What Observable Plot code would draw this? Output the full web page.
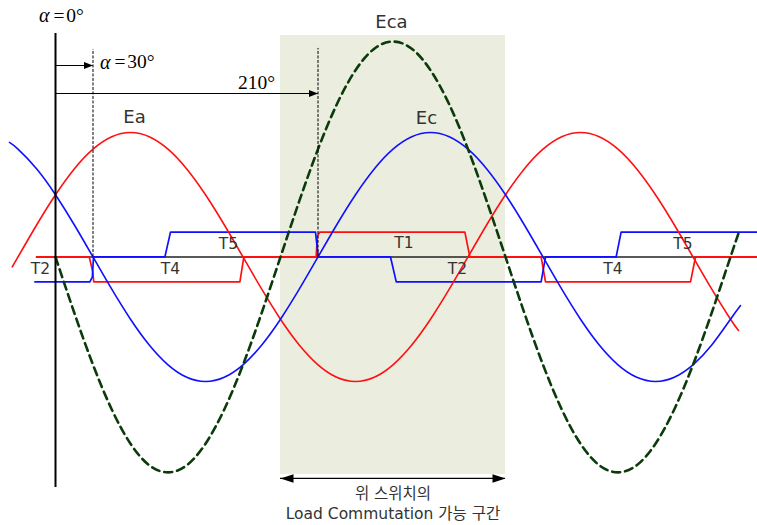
<!DOCTYPE html>
<html><head><meta charset="utf-8">
<script src="https://cdn.jsdelivr.net/npm/d3@7"></script>
<script src="https://cdn.jsdelivr.net/npm/@observablehq/plot@0.6"></script>
<style>html,body{margin:0;padding:0;background:#fff;overflow:hidden}</style>
</head><body><div id="chart"></div>
<script>
// Angles (degrees) of the sampling grid
const gridDeg = [-30,-15,0,15,30,45,60,75,90,105,120,135,150,165,180,195,210,225,240,255,270,285,300,315,330,345,360,375,390,405,420,435,450,465,480,495,510,525,540];
// Phase voltages (per-unit) read at each grid angle
const eaGrid = [0,.259,.5,.707,.866,.966,1,.966,.866,.707,.5,.259,0,-.259,-.5,-.707,-.866,-.966,-1,-.966,-.866,-.707,-.5,-.259,0,.259,.5,.707,.866,.966,1,.966,.866,.707,.5,.259,0,-.259,-.5];
const ecGrid = [.866,.707,.5,.259,0,-.259,-.5,-.707,-.866,-.966,-1,-.966,-.866,-.707,-.5,-.259,0,.259,.5,.707,.866,.966,1,.966,.866,.707,.5,.259,0,-.259,-.5,-.707,-.866,-.966,-1,-.966,-.866,-.707,-.5];
const ecaGrid = [null,null,0,-.448,-.866,-1.225,-1.5,-1.673,-1.73,-1.673,-1.5,-1.225,-.866,-.448,0,.448,.866,1.225,1.5,1.673,1.73,1.673,1.5,1.225,.866,.448,0,-.448,-.866,-1.225,-1.5,-1.673,-1.73,-1.673,-1.5,-1.225,-.866,-.448,0];
// Curve end points [deg, value]
const eaEnds = [[-34.6, -0.08], [546.4, -0.59]];
const ecEnds = [[-36.8, 0.92], [548, -0.39]];
const ecaEnds = [null, [546.4, 0.19]];
// Gate pulse traces [deg, level]
const redPulse = [[-15.2,0],[27,0],[29.8,-0.12],[30.6,-0.2],[147.5,-0.2],[150.7,0],[208.5,0],[209.6,0.17],[211.5,0.2],[327.5,0.2],[331.5,0],[388.5,0],[392,-0.2],[508,-0.2],[512,0],[561.6,0]];
const bluePulse = [[-16.5,-0.2],[27.5,-0.2],[29.5,-0.16],[30.4,0],[87.5,0],[92,0.2],[208,0.2],[210.2,0],[268,0],[272.6,-0.2],[388.5,-0.2],[392,0],[448.5,0],[452.5,0.2],[561.6,0.2]];
// Thyristor labels
const pulseLabels = ["T2","T4","T5","T1","T2","T4","T5"];
const pulseLabelDeg = [-12, 92, 138.4, 278.8, 321.6, 446, 502];
const pulseLabelVal = [-0.096, -0.096, 0.106, 0.108, -0.096, -0.096, 0.106];
// Curve names
const curveNames = ["Ea","Ec","Eca"];
const curveNameDeg = [63.2, 296.8, 268.8];
const curveNameVal = [1.12, 1.116, 1.884];
// Angle annotations
const alphaText = ["=\u200a0°", "=\u200a30°"];
const alphaDeg = [-1.6, 47.2];
const alphaVal = [1.94, 1.565];
const firingText = ["210°"];
const firingDeg = [160.8];
const firingVal = [1.40];
// Arrows (from 0° to firing angle)
const arrowTo = [30, 210];
const arrowVal = [1.538, 1.313];
const dashTop = [1.667, 1.675];
// Load commutation region
const regionDeg = [180, 360];
const regionVal = [-1.747, 1.779];
const regionArrowVal = -1.779;
const regionText = ["위 스위치의", "Load Commutation 가능 구간"];
const regionTextVal = [-1.905, -2.065];
const axisSpan = [-1.851, 1.795];

const build = (grid, ends) => {
  const pts = gridDeg.map((d, i) => [d, grid[i]]).filter(p => p[1] != null);
  if (ends[0]) pts.unshift(ends[0]);
  if (ends[1]) pts.push(ends[1]);
  return pts;
};
const ea = build(eaGrid, eaEnds), ec = build(ecGrid, ecEnds), eca = build(ecaGrid, ecaEnds);

const headSmall = {draw(c){ c.moveTo(0,0); c.lineTo(-9,-3.6); c.lineTo(-9,3.6); c.closePath(); }};
const headBig = {draw(c){ c.moveTo(0,0); c.lineTo(-13,-4.2); c.lineTo(-13,4.2); c.closePath(); }};

const sans = "DejaVu Sans, 'Noto Sans CJK KR', sans-serif";
const serif = "Liberation Serif, Times New Roman, serif";
const X = d => d[0], Y = d => d[1];

const chart = Plot.plot({
  width: 757, height: 525, margin: 0,
  style: {background: "#fff"},
  x: {domain: [-44, 561.6], range: [0, 757], axis: null},
  y: {domain: [-2.157, 2.06], range: [525, 0], axis: null},
  marks: [
    Plot.rect([0], {x1: regionDeg[0], x2: regionDeg[1], y1: regionVal[0], y2: regionVal[1], fill: "#ebeedf"}),
    Plot.ruleY([0], {x1: -15.2, x2: 561.6, stroke: "#222", strokeWidth: 1.6}),
    Plot.line(redPulse, {x: X, y: Y, stroke: "#ff1010", strokeWidth: 1.7}),
    Plot.line(bluePulse, {x: X, y: Y, stroke: "#1010ff", strokeWidth: 1.7}),
    Plot.line(ea, {x: X, y: Y, curve: "natural", stroke: "#ff1010", strokeWidth: 1.6}),
    Plot.line(ec, {x: X, y: Y, curve: "natural", stroke: "#1010ff", strokeWidth: 1.6}),
    Plot.line(eca, {x: X, y: Y, curve: "natural", stroke: "#0b3b0b", strokeWidth: 2.6, strokeDasharray: "8,5"}),
    Plot.ruleX([0], {y1: axisSpan[0], y2: axisSpan[1], stroke: "#000", strokeWidth: 2}),
    Plot.ruleX(arrowTo, {x: d => d, y1: 0, y2: (d, i) => dashTop[i], stroke: "#000", strokeWidth: 1, strokeDasharray: "3,1.5"}),
    Plot.ruleY(arrowTo, {y: (d, i) => arrowVal[i], x1: 0, x2: d => d, stroke: "#000", strokeWidth: 1.1}),
    Plot.dot(arrowTo, {x: d => d, y: (d, i) => arrowVal[i], symbol: headSmall, fill: "#000", stroke: "none"}),
    Plot.ruleY([regionArrowVal], {x1: regionDeg[0], x2: regionDeg[1], stroke: "#000", strokeWidth: 1.3}),
    Plot.dot([0], {x: regionDeg[1], y: regionArrowVal, symbol: headBig, fill: "#000", stroke: "none"}),
    Plot.dot([0], {x: regionDeg[0], y: regionArrowVal, symbol: headBig, rotate: 180, fill: "#000", stroke: "none"}),
    Plot.text(pulseLabels, {x: (d, i) => pulseLabelDeg[i], y: (d, i) => pulseLabelVal[i], text: d => d, fontFamily: sans, fontSize: 15.5, fill: "#333"}),
    Plot.text(curveNames, {x: (d, i) => curveNameDeg[i], y: (d, i) => curveNameVal[i], text: d => d, fontFamily: sans, fontSize: 18, fill: "#333"}),
    Plot.text(alphaText, {x: (d, i) => alphaDeg[i], y: (d, i) => alphaVal[i], text: d => d, textAnchor: "start", fontFamily: serif, fontSize: 19.5, fill: "#000"}),
    Plot.text(alphaText, {x: (d, i) => alphaDeg[i], y: (d, i) => alphaVal[i], text: () => "α", textAnchor: "end", dx: -4, fontFamily: serif, fontStyle: "italic", fontSize: 20, fill: "#000"}),
    Plot.text(firingText, {x: (d, i) => firingDeg[i], y: (d, i) => firingVal[i], text: d => d, fontFamily: serif, fontSize: 19.5, fill: "#000"}),
    Plot.text(regionText, {x: (regionDeg[0] + regionDeg[1]) / 2, y: (d, i) => regionTextVal[i], text: d => d, fontFamily: sans, fontSize: 15.5, fill: "#333"})
  ]
});
document.getElementById("chart").append(chart);
</script></body></html>
